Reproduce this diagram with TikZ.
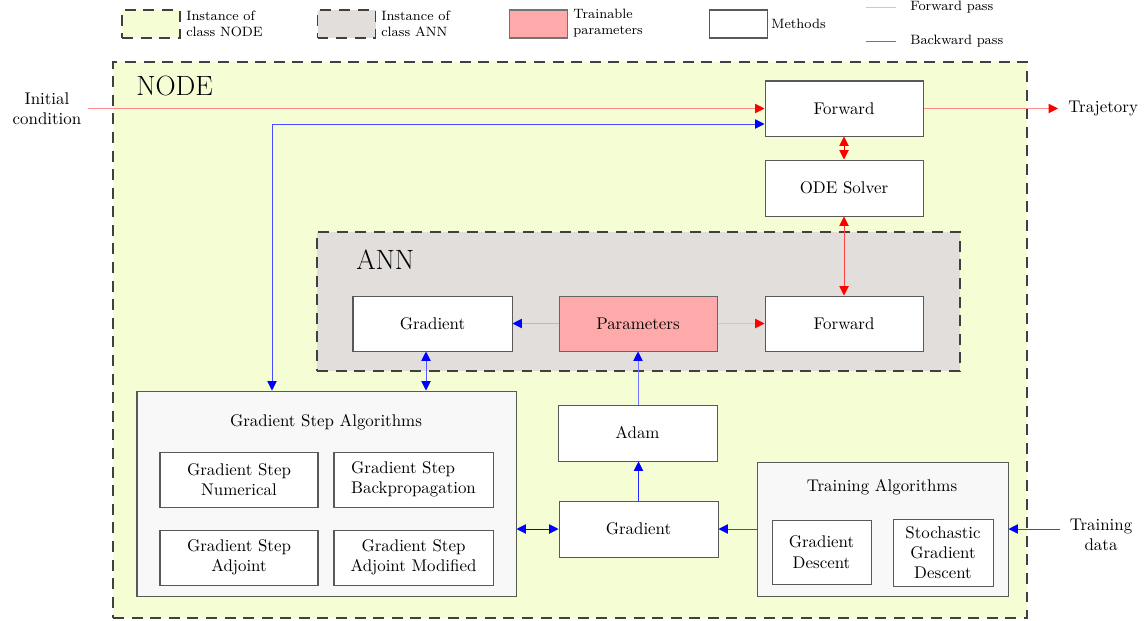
\documentclass[tikz,border=0pt]{standalone}
\usetikzlibrary{arrows.meta}
\newdimen\pxu \pxu=0.5917pt
\definecolor{nodebg}{RGB}{245,253,213}
\definecolor{annbg}{RGB}{226,222,220}
\definecolor{parbg}{RGB}{255,170,170}
\definecolor{grpbg}{RGB}{248,248,248}
\begin{document}
\begin{tikzpicture}[x=0.5917pt,y=-0.5917pt,
  method/.style={draw=black!65, fill=white, line width=0.6pt, inner sep=0pt,
    minimum width=158*\pxu, minimum height=55*\pxu, align=center},
  params/.style={method, fill=parbg, draw=black!60},
  group/.style={draw=black!65, fill=grpbg, line width=0.6pt, inner sep=0pt},
  container/.style={draw=black!75, line width=1.1pt, dash pattern=on 6.5pt off 4.5pt, inner sep=0pt},
  swatch/.style={inner sep=0pt, minimum width=58*\pxu, minimum height=28*\pxu},
  legtext/.style={font=\footnotesize, align=left, anchor=west, inner sep=0pt},
  title/.style={font=\fontsize{16.5}{19}\selectfont, anchor=west, inner sep=0pt},
  fw/.style={line width=0.55pt, >={Triangle[length=5.5pt,width=5.5pt,color=red]}},
  bw/.style={line width=0.55pt, >={Triangle[length=5.5pt,width=5.5pt,color=blue]}}]
\useasboundingbox (0,0) rectangle (1145,620);

% legend
\node[swatch, container, line width=0.9pt, fill=nodebg] (legnode) at (151,24) {};
\node[legtext] (legnodet) at (186,24) {Instance of\\class NODE};
\node[swatch, container, line width=0.9pt, fill=annbg] (legann) at (346.5,24) {};
\node[legtext] (legannt) at (381,24) {Instance of\\class ANN};
\node[swatch, draw=black!55, line width=0.6pt, fill=parbg] (legpar) at (538,24) {};
\node[legtext] (legpart) at (573,23) {Trainable\\parameters};
\node[swatch, draw=black!65, line width=0.6pt, fill=white] (legmeth) at (738,24) {};
\node[legtext] (legmetht) at (771,24) {Methods};
\coordinate (lfa) at (866,7);
\coordinate (lfb) at (896,7);
\coordinate (lba) at (866,41);
\coordinate (lbb) at (896,41);
\draw[line width=0.55pt, red!30] (lfa) -- (lfb);
\draw[line width=0.55pt, blue!60] (lba) -- (lbb);
\node[legtext] (legfw) at (910,7) {Forward pass};
\node[legtext] (legbw) at (910,41) {Backward pass};

% containers
\node[container, fill=nodebg, minimum width=914*\pxu, minimum height=556*\pxu] (nodebox) at (570,340) {};
\node[title] (nodetitle) at (136,86) {NODE};
\node[container, fill=annbg, minimum width=643*\pxu, minimum height=139*\pxu] (annbox) at (638.5,301.5) {};
\node[title] (anntitle) at (356,260) {ANN};

% methods
\node[method] (fwa) at (844,108.5) {Forward};
\node[method, minimum height=56*\pxu] (ode) at (844,188) {ODE Solver};
\node[method, minimum width=159*\pxu] (grada) at (432.5,323.5) {Gradient};
\node[params] (par) at (638,323.5) {Parameters};
\node[method] (fwb) at (844,323.5) {Forward};
\node[method, minimum width=159*\pxu, minimum height=56*\pxu] (adam) at (637.5,433) {Adam};
\node[method, minimum width=159*\pxu, minimum height=56*\pxu] (gradb) at (638.5,529) {Gradient};

% gradient step algorithms
\node[group, minimum width=379*\pxu, minimum height=205*\pxu] (gsa) at (326.5,493.5) {};
\node[inner sep=0pt] (gsat) at (326,422) {Gradient Step Algorithms};
\node[method] (gsnum) at (239,479.5) {Gradient Step\\Numerical};
\node[method, minimum width=159*\pxu, align=left] (gsbp) at (413.5,479.5) {Gradient Step\\Backpropagation};
\node[method] (gsadj) at (239,557.5) {Gradient Step\\Adjoint};
\node[method, minimum width=159*\pxu] (gsadjm) at (413.5,557.5) {Gradient Step\\Adjoint Modified};

% training algorithms
\node[group, minimum width=251*\pxu, minimum height=134*\pxu] (ta) at (882.5,529) {};
\node[inner sep=0pt] (tat) at (882,487) {Training Algorithms};
\node[method, minimum width=99*\pxu, minimum height=64*\pxu] (gd) at (821.5,552) {Gradient\\Descent};
\node[method, minimum width=100*\pxu, minimum height=67*\pxu] (sgd) at (943,552.5) {Stochastic\\Gradient\\Descent};

% outer labels
\node[align=center, inner sep=0pt] (ic) at (47,109) {Initial\\condition};
\node[anchor=west, inner sep=0pt] (traj) at (1068,108.5) {Trajetory};
\node[align=center, inner sep=0pt] (td) at (1101,535) {Training\\data};
\coordinate (icstart) at (88,108.5);
\coordinate (tdstart) at (1060,529);
\coordinate (trajend) at (1058,108.5);
\coordinate (bend) at (272,124);
\coordinate (gx) at (426,0);

% forward pass
\draw[fw, red!45, ->] (icstart) -- (fwa.west);
\draw[fw, red!45, ->] (fwa.east) -- (trajend);
\draw[fw, red, <->] (fwa.south) -- (ode.north);
\draw[fw, red!75, <->] (ode.south) -- (fwb.north);
\draw[fw, red!30, ->] (par.east) -- (fwb.west);

% backward pass
\draw[bw, blue!70, <->] (fwa.west |- bend) -- (bend) -- (gsa.north -| bend);
\draw[bw, blue!30, ->] (par.west) -- (grada.east);
\draw[bw, blue!65, <->] (grada.south -| gx) -- (gsa.north -| gx);
\draw[bw, blue!55, ->] (adam.north -| par.south) -- (par.south);
\draw[bw, blue!85, ->] (gradb.north) -- (adam.south -| gradb.north);
\draw[bw, blue, <->] (gsa.east |- gradb.west) -- (gradb.west);
\draw[bw, blue!75, ->] (ta.west) -- (gradb.east);
\draw[bw, blue!75, ->] (tdstart) -- (ta.east);
\end{tikzpicture}
\end{document}
